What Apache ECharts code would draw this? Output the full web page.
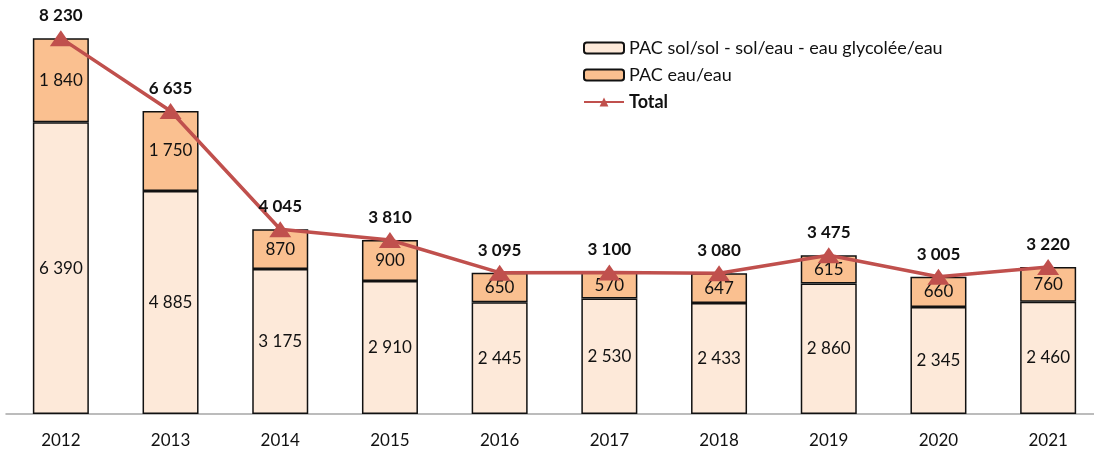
<!DOCTYPE html>
<html><head><meta charset="utf-8">
<script src="https://cdn.jsdelivr.net/npm/echarts@6/dist/echarts.min.js"></script>
<style>html,body{margin:0;padding:0;background:#fff}#c{width:1094px;height:452px}</style>
</head><body><div id="c"></div>
<script>
const categories = ['2012','2013','2014','2015','2016','2017','2018','2019','2020','2021'];
const solValues = [6390, 4885, 3175, 2910, 2445, 2530, 2433, 2860, 2345, 2460];
const eauValues = [1840, 1750, 870, 900, 650, 570, 647, 615, 660, 760];
const totalValues = [8230, 6635, 4045, 3810, 3095, 3100, 3080, 3475, 3005, 3220];
const seriesNames = ['PAC sol/sol - sol/eau - eau glycolée/eau', 'PAC eau/eau', 'Total'];

const fmt = v => String(v).replace(/\B(?=(\d{3})+(?!\d))/g, ' ');
const FONT = 'Lato, "Open Sans", sans-serif';
const chart = echarts.init(document.getElementById('c'));
chart.setOption({
  animation: false,
  textStyle: {fontFamily: FONT},
  grid: {left: 6, width: 1097, top: 3, bottom: 38, containLabel: false, outerBoundsMode: 'none'},
  legend: {
    orient: 'vertical', left: 578, top: 34, itemGap: 9,
    itemWidth: 40, itemHeight: 11,
    textStyle: {fontSize: 18, color: '#111', fontFamily: FONT},
    data: [
      {name: seriesNames[0]},
      {name: seriesNames[1]},
      {name: seriesNames[2], textStyle: {fontWeight: 'bold'}}
    ]
  },
  xAxis: {
    type: 'category', data: categories,
    axisLine: {lineStyle: {color: '#A6A6A6', width: 1.5}},
    axisTick: {show: false},
    axisLabel: {fontSize: 17, color: '#111', margin: 18}
  },
  yAxis: {type: 'value', min: 0, max: 9000, show: false, splitLine: {show: false}},
  series: [
    {
      name: seriesNames[0], type: 'bar', stack: 's', barWidth: 56,
      data: solValues,
      itemStyle: {color: '#FDE9D9', borderColor: '#111', borderWidth: 1.5},
      label: {show: true, position: 'inside', fontSize: 17, color: '#111', formatter: p => fmt(p.value)}
    },
    {
      name: seriesNames[1], type: 'bar', stack: 's', barWidth: 56,
      data: eauValues,
      itemStyle: {color: '#FAC090', borderColor: '#111', borderWidth: 1.5},
      label: {show: true, position: 'inside', fontSize: 17, color: '#111', formatter: p => fmt(p.value)}
    },
    {
      name: seriesNames[2], type: 'line', data: totalValues,
      symbol: 'triangle', symbolSize: [22, 16],
      lineStyle: {color: '#C0504D', width: 3.5},
      itemStyle: {color: '#C0504D'},
      label: {show: true, position: 'top', distance: 6, fontSize: 17, fontWeight: 'bold', color: '#111', formatter: p => fmt(p.value)},
      z: 5
    }
  ]
});
</script></body></html>
